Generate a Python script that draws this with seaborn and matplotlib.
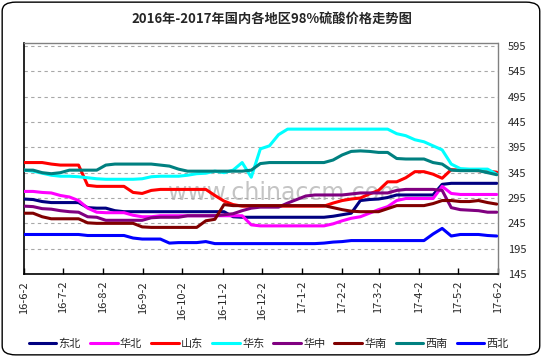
import pandas as pd
import numpy as np
import matplotlib
matplotlib.use("Agg")
import matplotlib.pyplot as plt
import seaborn as sns
from matplotlib.patches import FancyBboxPatch

# Datos semanales (yuan/t)
fechas = pd.date_range("2016-06-02", periods=53, freq="7D")

regiones = ["东北", "华北", "山东", "华东", "华中", "华南", "西南", "西北"]
colores = ["#000080", "#FF00FF", "#FF0000", "#00FFFF",
           "#800080", "#800000", "#008080", "#0000FF"]

dongbei = [293, 292, 288, 286, 286, 286, 286, 276, 275, 275, 270, 268, 268, 268,
           268, 268, 268, 268, 268, 268, 268, 268, 268, 258, 257, 257, 257, 257,
           257, 257, 257, 257, 257, 257, 259, 262, 265, 290, 292, 293, 296, 301,
           301, 301, 301, 301, 322, 324, 324, 324, 324, 324, 324]
huabei = [308, 308, 306, 305, 300, 297, 290, 275, 267, 266, 266, 266, 261, 258,
          258, 260, 260, 260, 260, 260, 260, 260, 260, 260, 260, 242, 240, 240,
          240, 240, 240, 240, 240, 240, 244, 250, 255, 258, 265, 272, 278, 290,
          294, 294, 294, 294, 318, 304, 302, 302, 302, 302, 302]
shandong = [365, 365, 365, 362, 360, 360, 360, 320, 318, 318, 318, 318, 306, 304,
            310, 312, 312, 312, 312, 312, 312, 300, 289, 282, 279, 279, 279, 279,
            279, 279, 279, 279, 279, 279, 285, 290, 293, 295, 303, 310, 327, 327,
            335, 347, 347, 342, 334, 351, 350, 350, 349, 348, 346]
huadong = [350, 348, 344, 340, 338, 338, 337, 335, 333, 332, 332, 332, 332, 333,
           337, 338, 338, 338, 340, 343, 344, 348, 345, 350, 365, 336, 392, 398,
           420, 431, 431, 431, 431, 431, 431, 431, 431, 431, 431, 431, 431, 422,
           418, 410, 406, 398, 390, 362, 353, 352, 352, 352, 342]
huazhong = [279, 278, 274, 273, 270, 268, 267, 258, 257, 251, 251, 251, 251, 251,
            256, 257, 257, 257, 260, 260, 260, 260, 262, 264, 270, 275, 277, 277,
            277, 285, 292, 299, 301, 301, 301, 301, 303, 305, 305, 305, 305, 310,
            312, 312, 312, 312, 310, 276, 272, 271, 270, 267, 267]
huanan = [265, 265, 258, 254, 254, 254, 254, 246, 245, 245, 245, 245, 245, 238,
          237, 237, 237, 237, 237, 237, 250, 253, 282, 280, 280, 280, 280, 280,
          280, 280, 280, 280, 280, 280, 276, 272, 269, 268, 268, 268, 274, 280,
          280, 280, 280, 284, 290, 290, 288, 288, 290, 286, 283]
xinan = [350, 350, 345, 343, 345, 350, 350, 350, 350, 360, 362, 362, 362, 362,
         362, 360, 358, 352, 348, 348, 348, 348, 348, 348, 348, 350, 363, 365,
         365, 365, 365, 365, 365, 365, 370, 380, 387, 388, 387, 385, 385, 373,
         372, 372, 372, 365, 362, 350, 349, 349, 349, 345, 341]
xibei = [223, 223, 223, 223, 223, 223, 223, 221, 221, 221, 221, 221, 216, 214,
         214, 214, 206, 207, 207, 207, 209, 205, 205, 205, 205, 205, 205, 205,
         205, 205, 205, 205, 205, 206, 208, 209, 211, 211, 211, 211, 211, 211,
         211, 211, 211, 224, 235, 220, 223, 223, 223, 221, 220]

series = [dongbei, huabei, shandong, huadong, huazhong, huanan, xinan, xibei]

tick_fechas = pd.date_range("2016-06-01", "2017-06-01", freq="MS") + pd.Timedelta(days=1)
y_ticks = list(range(145, 600, 50))

df = pd.concat([pd.DataFrame({"fecha": fechas, "precio": s, "region": r})
                for r, s in zip(regiones, series)], ignore_index=True)

sns.set_style("white")
plt.rcParams["font.family"] = ["Noto Sans CJK SC", "DejaVu Sans"]

fig = plt.figure(figsize=(5.43, 3.57), dpi=100)
ax = fig.add_axes([24 / 543, 1 - 274 / 357, 474 / 543, 231 / 357])

ax.text(0.55, 0.35, "www.chinaccm.com", transform=ax.transAxes, ha="center",
        va="center", fontsize=17, color="#C4C4C4", zorder=0,
        family="DejaVu Sans")

sns.lineplot(data=df, x="fecha", y="precio", hue="region", hue_order=regiones,
             palette=colores, linewidth=2.2, ax=ax, zorder=3)

ax.set_xlim(pd.Timestamp("2016-06-02"), pd.Timestamp("2017-06-02"))
ax.set_ylim(145, 601)
ax.set_xlabel("")
ax.set_ylabel("")

ax.set_xticks(tick_fechas)
ax.set_xticklabels([f"{d.year % 100}-{d.month}-{d.day}" for d in tick_fechas],
                   rotation=90, fontsize=8)
ax.set_yticks(y_ticks)
ax.set_yticklabels([str(v) for v in y_ticks], fontsize=8)
ax.yaxis.tick_right()
ax.tick_params(axis="y", length=0, pad=7)
ax.tick_params(axis="x", direction="in", length=4, width=1, color="black",
               pad=5, bottom=True)

ax.grid(axis="y", linestyle=(0, (3, 3)), color="#A8A8A8", linewidth=0.8)
ax.grid(axis="x", visible=False)
for lado in ["left", "bottom"]:
    ax.spines[lado].set_color("black")
    ax.spines[lado].set_linewidth(1.2)
for lado in ["top", "right"]:
    ax.spines[lado].set_color("#808080")
    ax.spines[lado].set_linestyle((0, (2, 1)))
    ax.spines[lado].set_linewidth(1.0)

handles, labels = ax.get_legend_handles_labels()
ax.get_legend().remove()
fig.legend(handles, labels, loc="center", bbox_to_anchor=(0.495, 1 - 344 / 357),
           ncol=8, frameon=False, fontsize=8, handlelength=2.5,
           handletextpad=0.2, columnspacing=0.8)

fig.text(0.5, 1 - 19 / 357, "2016年-2017年国内各地区98%硫酸价格走势图",
         ha="center", va="center", fontsize=9.5, fontweight="bold")

borde = FancyBboxPatch((0.004, 0.006), 0.99, 0.988, transform=fig.transFigure,
                       boxstyle="round,pad=0,rounding_size=0.025",
                       facecolor="none", edgecolor="black", linewidth=1.0)
fig.patches.append(borde)

fig.savefig("out.png", dpi=100)
